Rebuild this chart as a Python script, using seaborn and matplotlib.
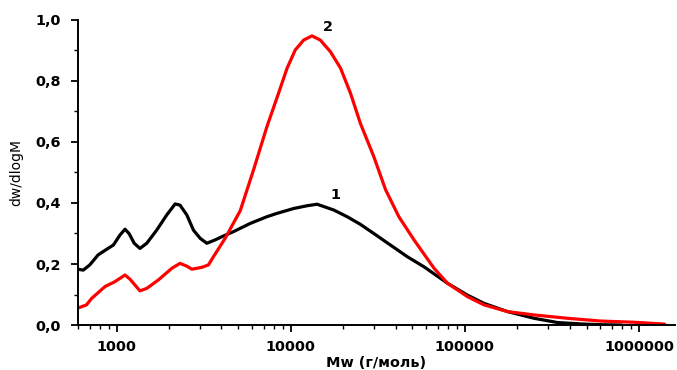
import matplotlib
matplotlib.use("Agg")
import matplotlib.pyplot as plt
import pandas as pd
import seaborn as sns
from matplotlib.ticker import FuncFormatter, FixedLocator, LogLocator, NullFormatter

# curve 1 (black)
mw_1 = [596, 643, 701, 783, 875, 957, 1045, 1117, 1178, 1262, 1361, 1489, 1698,
        1941, 2168, 2312, 2529, 2761, 3020, 3296, 3681, 4111, 4688, 5848, 7295,
        8337, 10400, 12420, 14160, 17660, 21090, 25120, 29990, 37410, 46670,
        58210, 79430, 103500, 128800, 175800, 250000, 341300, 485300, 602600,
        794300]
dw_1 = [0.183, 0.180, 0.197, 0.230, 0.248, 0.262, 0.295, 0.314, 0.300, 0.268,
        0.251, 0.268, 0.311, 0.361, 0.397, 0.393, 0.361, 0.311, 0.284, 0.268,
        0.279, 0.292, 0.306, 0.333, 0.355, 0.366, 0.382, 0.391, 0.396, 0.377,
        0.355, 0.330, 0.300, 0.262, 0.224, 0.191, 0.137, 0.098, 0.071, 0.044,
        0.022, 0.008, 0.003, 0.001, 0.0]

# curve 2 (red)
mw_2 = [596, 671, 718, 857, 977, 1117, 1194, 1361, 1489, 1738, 2075, 2312, 2529,
        2704, 3083, 3365, 3597, 4198, 5129, 6109, 7295, 8511, 9528, 10620,
        11860, 13240, 14790, 16900, 19320, 22030, 25120, 29990, 35080, 41780,
        51050, 66530, 79430, 103500, 128800, 175800, 250000, 389000, 602600,
        941900, 1403000]
dw_2 = [0.055, 0.066, 0.087, 0.126, 0.142, 0.164, 0.150, 0.112, 0.120, 0.148,
        0.186, 0.202, 0.193, 0.183, 0.189, 0.197, 0.224, 0.284, 0.375, 0.508,
        0.650, 0.760, 0.842, 0.902, 0.934, 0.948, 0.934, 0.896, 0.842, 0.760,
        0.661, 0.552, 0.443, 0.355, 0.279, 0.186, 0.137, 0.093, 0.066, 0.044,
        0.033, 0.022, 0.013, 0.009, 0.003]

x_ticks = [1000, 10000, 100000, 1000000]
y_ticks = [0.0, 0.2, 0.4, 0.6, 0.8, 1.0]

df = pd.concat([
    pd.DataFrame({"Mw": mw_1, "dw": dw_1, "curve": "1"}),
    pd.DataFrame({"Mw": mw_2, "dw": dw_2, "curve": "2"}),
])

sns.set_style("ticks")
plt.rcParams["font.family"] = ["DejaVu Sans"]
plt.rcParams["text.color"] = "black"
plt.rcParams["axes.labelcolor"] = "black"

fig = plt.figure(figsize=(6.77, 3.70), dpi=100)
ax = fig.add_axes([0.1145, 0.1216, 0.8825, 0.8244])

sns.lineplot(data=df, x="Mw", y="dw", hue="curve", palette={"1": "black", "2": "#ff0000"},
             linewidth=2.3, legend=False, ax=ax, sort=False, estimator=None)

ax.set_xscale("log")
ax.set_xlim(596, 1.61e6)
ax.set_ylim(0, 1.0)

ax.xaxis.set_major_locator(FixedLocator(x_ticks))
ax.xaxis.set_major_formatter(FuncFormatter(lambda v, p: f"{int(round(v))}"))
ax.xaxis.set_minor_locator(LogLocator(base=10, subs=range(2, 10)))
ax.xaxis.set_minor_formatter(NullFormatter())
ax.yaxis.set_major_locator(FixedLocator(y_ticks))
ax.yaxis.set_minor_locator(FixedLocator([0.1, 0.3, 0.5, 0.7, 0.9]))
ax.yaxis.set_major_formatter(FuncFormatter(lambda v, p: f"{v:.1f}".replace(".", ",")))

for lbl in ax.get_xticklabels() + ax.get_yticklabels():
    lbl.set_fontweight("bold")
    lbl.set_fontsize(10.4)

ax.tick_params(which="major", direction="out", length=5, width=1.3, colors="black")
ax.tick_params(which="minor", direction="out", length=3, width=1.0, colors="black")
ax.tick_params(axis="x", which="major", pad=6)
ax.tick_params(axis="y", which="major", pad=7)

sns.despine(ax=ax)
for side in ["left", "bottom"]:
    ax.spines[side].set_linewidth(1.4)
    ax.spines[side].set_color("black")

ax.set_xlabel("Mw (г/моль)", fontsize=10.4, fontweight="bold", labelpad=1, color="black")
ax.set_ylabel("dw/dlogM", fontsize=10, labelpad=9, color="black")

ax.text(18000, 0.425, "1", fontsize=10.4, fontweight="bold", ha="center", va="center", color="black")
ax.text(16400, 0.977, "2", fontsize=10.4, fontweight="bold", ha="center", va="center", color="black")

fig.savefig("out.png", dpi=100)
